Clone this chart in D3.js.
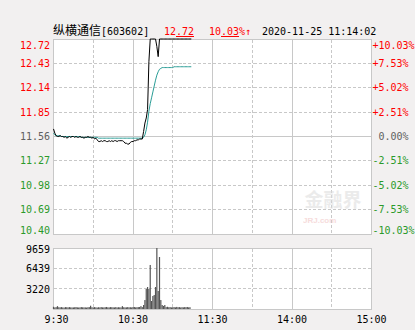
<!DOCTYPE html>
<html>
<head>
<meta charset="utf-8">
<script src="https://cdn.jsdelivr.net/npm/d3@7"></script>
<style>
  body { margin: 0; background: #f2f0f0; }
  svg { display: block; }
</style>
</head>
<body>
<script>
// Data: one value per trading minute from 9:30
const preClose = 11.56;
const priceTicks = [12.72, 12.43, 12.14, 11.85, 11.56, 11.27, 10.98, 10.69, 10.40];
const pctLabels = ["+10.03%", "+7.53%", "+5.02%", "+2.51%", " 0.00%", "-2.51%", "-5.02%", "-7.53%", "-10.03%"];
const volTicks = [9659, 6439, 3220];
const timeTicks = [0, 30, 60, 90, 120, 150, 180, 210, 240];
const timeLabels = [" 9:30", "", "10:30", "", "11:30", "", "14:00", "", "15:00"];

const price = [
  11.65, 11.60, 11.57, 11.56, 11.56, 11.57, 11.56, 11.56, 11.55, 11.56,
  11.54, 11.55, 11.56, 11.55, 11.56, 11.56, 11.55, 11.56, 11.55, 11.55,
  11.56, 11.55, 11.55, 11.54, 11.55, 11.55, 11.56, 11.55, 11.55, 11.54,
  11.55, 11.53, 11.54, 11.52, 11.50, 11.50, 11.51, 11.50, 11.51, 11.51,
  11.50, 11.50, 11.51, 11.50, 11.51, 11.50, 11.51, 11.51, 11.50, 11.51,
  11.51, 11.51, 11.51, 11.50, 11.48, 11.48, 11.47, 11.47, 11.49, 11.50,
  11.50, 11.51, 11.51, 11.52, 11.52, 11.53, 11.53, 11.53, 11.62, 11.72,
  11.78, 11.88, 12.45, 12.72, 12.72, 12.72, 12.72, 12.72, 12.63, 12.51,
  12.72, 12.72, 12.72, 12.72, 12.72, 12.72, 12.72, 12.72, 12.72, 12.72,
  12.72, 12.72, 12.72, 12.72, 12.72, 12.72, 12.72, 12.72, 12.72, 12.72,
  12.72, 12.72, 12.72, 12.72, 12.72
];

const avgPrice = [
  11.60, 11.58, 11.57, 11.57, 11.57, 11.57, 11.56, 11.56, 11.56, 11.56,
  11.56, 11.56, 11.56, 11.56, 11.56, 11.56, 11.56, 11.56, 11.56, 11.56,
  11.56, 11.55, 11.55, 11.55, 11.55, 11.55, 11.55, 11.55, 11.55, 11.55,
  11.55, 11.55, 11.55, 11.55, 11.54, 11.54, 11.54, 11.54, 11.54, 11.54,
  11.54, 11.54, 11.54, 11.54, 11.54, 11.54, 11.54, 11.54, 11.54, 11.54,
  11.54, 11.54, 11.54, 11.54, 11.54, 11.54, 11.54, 11.54, 11.54, 11.54,
  11.54, 11.54, 11.54, 11.54, 11.54, 11.54, 11.54, 11.54, 11.55, 11.58,
  11.64, 11.73, 11.86, 11.95, 12.02, 12.09, 12.16, 12.23, 12.29, 12.33,
  12.36, 12.37, 12.38, 12.38, 12.38, 12.38, 12.38, 12.38, 12.38, 12.38,
  12.38, 12.39, 12.39, 12.39, 12.39, 12.39, 12.39, 12.39, 12.39, 12.39,
  12.39, 12.39, 12.39, 12.39, 12.39
];

const volume = [
  350, 250, 300, 450, 280, 260, 300, 250, 220, 300,
  280, 250, 300, 260, 240, 250, 280, 300, 260, 240,
  250, 300, 270, 250, 260, 230, 280, 300, 520, 280,
  250, 300, 260, 230, 280, 250, 300, 260, 250, 280,
  320, 260, 250, 300, 280, 260, 250, 300, 240, 280,
  260, 250, 450, 280, 250, 260, 300, 260, 280, 250,
  300, 320, 260, 280, 300, 320, 450, 300, 630, 1420,
  3170, 3480, 3170, 6970, 1270, 2060, 2220, 3480, 9659, 2850,
  8230, 1420, 630, 480, 630, 300, 350, 280, 300, 250,
  280, 300, 260, 330, 280, 300, 250, 280, 260, 300,
  280, 320, 260, 280, 0
];

const W = 415, H = 330;
const left = 53.5, right = 371.5;
const red = "#ff0000", green = "#2a9a2a", gray = "#606060";
const mono = "'DejaVu Sans Mono', monospace";
const cjk = "'Noto Sans CJK SC', sans-serif";
const gridColor = "#c8c8c8";

const svg = d3.select("body").append("svg")
  .attr("width", W)
  .attr("height", H);

const x = d3.scaleLinear().domain([0, 240]).range([left, right]);
const y = d3.scaleLinear().domain([10.40, 12.72]).range([234, 39]);
const yVol = d3.scaleLinear().domain([0, 9659]).range([309, 248]);

const snap = v => Math.round(v - 0.5) + 0.5;

// Title row
const title = svg.append("text")
  .attr("x", 53)
  .attr("y", 35)
  .attr("font-size", 10)
  .attr("fill", "#000");
title.append("tspan").attr("font-family", cjk).attr("font-size", 12).text("纵横通信");
title.append("tspan").attr("font-family", mono).text("[603602]");

svg.append("text")
  .attr("x", 164).attr("y", 35)
  .attr("font-family", mono).attr("font-size", 10).attr("fill", red)
  .text("12.72");
svg.append("line")
  .attr("x1", 176).attr("x2", 194)
  .attr("y1", 36.5).attr("y2", 36.5)
  .attr("stroke", red).attr("shape-rendering", "crispEdges");

svg.append("text")
  .attr("x", 209).attr("y", 35)
  .attr("font-family", mono).attr("font-size", 10).attr("fill", red)
  .text("10.03%↑");
svg.append("line")
  .attr("x1", 221).attr("x2", 239)
  .attr("y1", 36.5).attr("y2", 36.5)
  .attr("stroke", red).attr("shape-rendering", "crispEdges");

svg.append("text")
  .attr("x", 262).attr("y", 35)
  .attr("font-family", mono).attr("font-size", 10).attr("fill", "#000")
  .text("2020-11-25 11:14:02");

// Panels
function panel(y0, y1, hLines) {
  const g = svg.append("g").attr("shape-rendering", "crispEdges");
  g.append("rect")
    .attr("x", left).attr("y", y0 + 0.5)
    .attr("width", right - left).attr("height", y1 - y0)
    .attr("fill", "#fff").attr("stroke", gridColor);
  g.selectAll(".vgrid")
    .data(timeTicks.slice(1, -1))
    .join("line")
    .attr("x1", d => snap(x(d))).attr("x2", d => snap(x(d)))
    .attr("y1", y0 + 0.5).attr("y2", y1 + 0.5)
    .attr("stroke", gridColor)
    .attr("stroke-dasharray", d => d % 60 === 0 ? null : "3,2");
  g.selectAll(".hgrid")
    .data(hLines)
    .join("line")
    .attr("x1", left).attr("x2", right)
    .attr("y1", d => snap(d.y)).attr("y2", d => snap(d.y))
    .attr("stroke", gridColor)
    .attr("stroke-dasharray", d => d.solid ? null : "3,2");
  return g;
}

panel(39, 234, priceTicks.slice(1, -1).map(p => ({ y: y(p), solid: p === preClose })));
panel(248, 309, volTicks.slice(1).map(v => ({ y: yVol(v), solid: false })));

// Watermark
const wm = svg.append("g").attr("opacity", 0.55);
wm.append("text")
  .attr("x", 333).attr("y", 207)
  .attr("text-anchor", "middle")
  .attr("font-family", cjk).attr("font-weight", "bold").attr("font-size", 19)
  .attr("fill", "#dcdcdc")
  .text("金融界");
wm.append("text")
  .attr("x", 303).attr("y", 223)
  .attr("font-family", "Arial, sans-serif").attr("font-weight", "bold").attr("font-size", 8)
  .attr("fill", "#f0c0c0")
  .text("JRJ.com");

// Price axis labels
const priceColor = p => p > preClose ? red : p < preClose ? green : gray;
const labelY = (yy, top, bottom) => Math.min(Math.max(yy + 3.5, top + 10), bottom);

svg.append("g").selectAll("text")
  .data(priceTicks)
  .join("text")
  .attr("x", 50)
  .attr("y", d => labelY(y(d), 39, 234))
  .attr("text-anchor", "end")
  .attr("font-family", mono).attr("font-size", 10)
  .attr("fill", priceColor)
  .text(d => d.toFixed(2));

svg.append("g").selectAll("text")
  .data(priceTicks)
  .join("text")
  .attr("x", 372.5)
  .attr("y", d => labelY(y(d), 39, 234))
  .attr("font-family", mono).attr("font-size", 10)
  .attr("fill", priceColor)
  .attr("xml:space", "preserve")
  .text((d, i) => pctLabels[i]);

// Volume axis labels
svg.append("g").selectAll("text")
  .data(volTicks)
  .join("text")
  .attr("x", 50)
  .attr("y", d => Math.max(yVol(d) + 4, 253))
  .attr("text-anchor", "end")
  .attr("font-family", mono).attr("font-size", 10)
  .attr("fill", "#000")
  .text(d => d);

// Time labels
svg.append("g").selectAll("text")
  .data(timeTicks.filter((d, i) => timeLabels[i]))
  .join("text")
  .attr("x", d => x(d))
  .attr("y", 323)
  .attr("text-anchor", "middle")
  .attr("font-family", mono).attr("font-size", 10)
  .attr("fill", "#000")
  .attr("xml:space", "preserve")
  .text(d => timeLabels[timeTicks.indexOf(d)]);

// Volume bars
svg.append("g")
  .selectAll("rect")
  .data(volume)
  .join("rect")
  .attr("x", (d, i) => x(i) - 0.6)
  .attr("y", d => yVol(d))
  .attr("width", 1.2)
  .attr("height", d => 309 - yVol(d))
  .attr("fill", "#555");

// Average and price lines
const line = d3.line()
  .x((d, i) => x(i))
  .y(d => y(d));

svg.append("path")
  .datum(avgPrice)
  .attr("d", line)
  .attr("fill", "none")
  .attr("stroke", "#2a9d96")
  .attr("stroke-width", 1);

svg.append("path")
  .datum(price)
  .attr("d", line)
  .attr("fill", "none")
  .attr("stroke", "#000")
  .attr("stroke-width", 1);
</script>
</body>
</html>
